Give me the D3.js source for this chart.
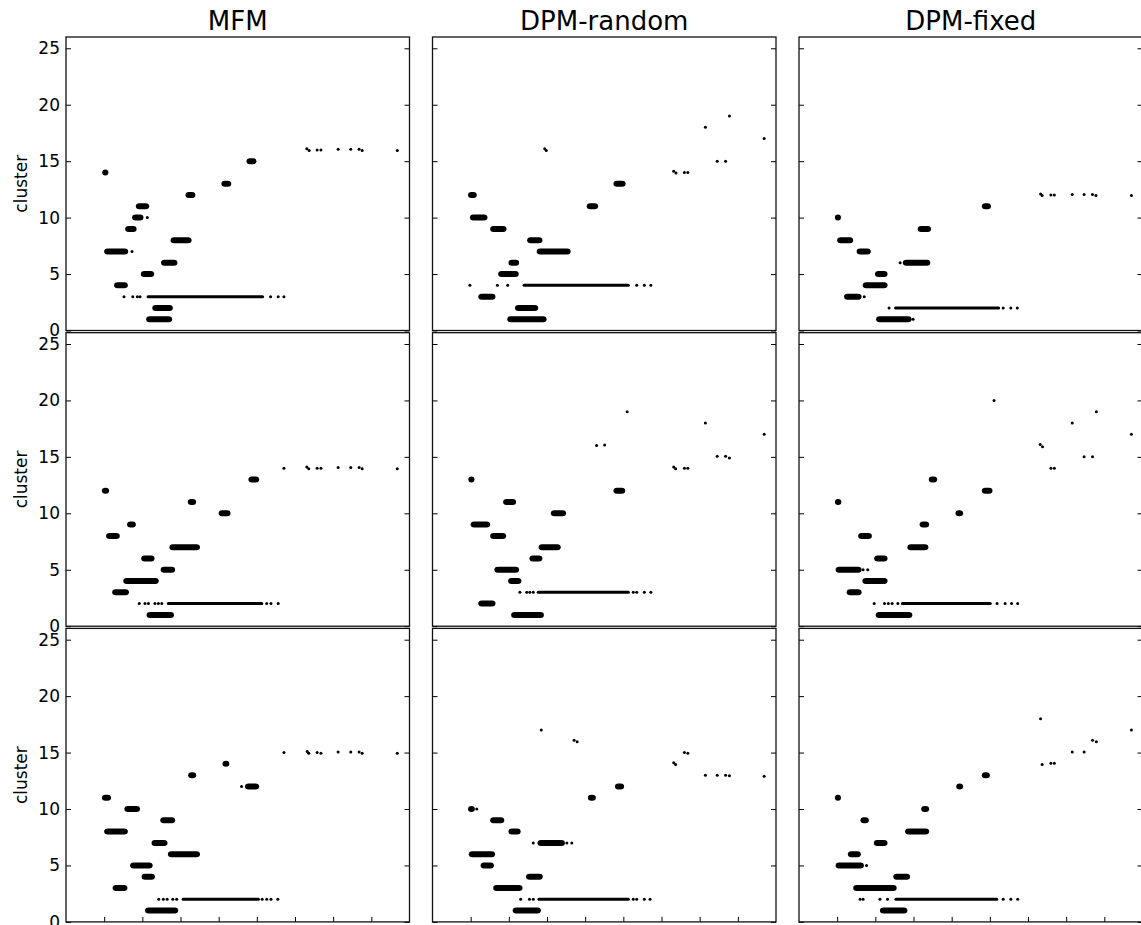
<!DOCTYPE html>
<html><head><meta charset="utf-8">
<script src="https://cdn.jsdelivr.net/npm/d3@7"></script>
<style>body{margin:0;background:#fff}svg{display:block}</style>
</head><body><svg id="c" width="1141" height="925"></svg>
<script>
const titles = ["MFM", "DPM-random", "DPM-fixed"];
const yTicks = [0, 5, 10, 15, 20, 25];
const xTicks = [1, 2, 3, 4, 5, 6, 7, 8];

// blobs: [cluster, xStart, xEnd]; trail: [cluster, xStart, xEnd]; dots: [cluster, x]
const mfmABlobs = [[15,4.73,4.99],[14,0.95,1.11],[13,4.07,4.33],[12,3.13,3.39],[11,1.83,2.18],[10,1.73,2.03],[9,1.55,1.85],[8,2.74,3.29],[7,1.00,1.63],[6,2.49,2.92],[5,1.96,2.31],[4,1.26,1.62],[2,2.26,2.80],[1,2.10,2.78]];
const mfmATrail = [[3,2.11,5.19]];
const mfmADots = [[16.1,6.31],[15.95,6.37],[16,6.58],[16,6.68],[16.05,7.13],[16.05,7.46],[16.05,7.68],[15.95,7.76],[15.95,8.68],[10,2.13],[7,1.73],[3,1.52],[3,1.75],[3,1.87],[3,1.94],[3,5.36],[3,5.56],[3,5.71]];

const dpmrABlobs = [[13,4.74,5.06],[12,0.93,1.16],[11,4.04,4.34],[10,0.98,1.44],[9,1.51,1.94],[8,2.48,2.88],[7,2.73,3.62],[6,1.99,2.27],[5,1.72,2.26],[3,1.20,1.65],[2,2.16,2.77],[1,1.96,2.99]];
const dpmrATrail = [[4,2.36,5.17]];
const dpmrADots = [[19,7.78],[18,7.15],[17,8.69],[16.1,2.94],[15.95,2.98],[15,7.46],[15,7.68],[14.1,6.32],[13.95,6.38],[14,6.60],[14,6.69],[4,0.98],[4,1.70],[4,1.97],[4,5.35],[4,5.55],[4,5.72]];

const dpmfABlobs = [[11,4.79,5.03],[10,0.94,1.10],[9,3.11,3.46],[8,1.00,1.42],[7,1.51,1.88],[6,2.72,3.44],[5,1.99,2.32],[4,1.67,2.32],[3,1.18,1.64],[1,2.02,2.95]];
const dpmfATrail = [[2,2.49,5.27]];
const dpmfADots = [[12.1,6.33],[11.95,6.37],[12,6.60],[12,6.69],[12.05,7.16],[12.05,7.47],[12.05,7.69],[11.95,7.78],[11.95,8.71],[6,2.65],[3,1.71],[2,2.36],[2,5.35],[2,5.55],[2,5.72],[1,2.99]];

const mfmBBlobs = [[13,4.78,5.06],[12,0.94,1.13],[11,3.19,3.41],[10,4.00,4.31],[9,1.60,1.83],[8,1.05,1.41],[7,2.71,3.51],[6,1.97,2.32],[5,2.48,2.86],[4,1.50,2.43],[3,1.21,1.65],[1,2.11,2.83]];
const mfmBTrail = [[2,2.64,5.17]];
const mfmBDots = [[14,5.71],[14.1,6.31],[13.95,6.36],[14,6.58],[14,6.68],[14.05,7.13],[14.05,7.46],[14.05,7.68],[13.95,7.76],[13.95,8.68],[2,1.92],[2,2.07],[2,2.16],[2,2.33],[2,2.42],[2,2.51],[2,5.26],[2,5.37],[2,5.56]];

const dpmrBBlobs = [[13,0.94,1.10],[12,4.74,5.05],[11,1.85,2.19],[10,3.10,3.50],[9,1.00,1.51],[8,1.51,1.93],[7,2.78,3.36],[6,2.54,2.88],[5,1.62,2.27],[4,1.98,2.33],[2,1.20,1.65],[1,2.06,2.92]];
const dpmrBTrail = [[3,2.73,5.17]];
const dpmrBDots = [[19,5.10],[18,7.15],[17,8.69],[16,4.30],[16.05,4.51],[15.05,7.46],[15.05,7.68],[14.9,7.78],[14.1,6.32],[13.95,6.37],[14,6.60],[14,6.69],[3,2.29],[3,2.47],[3,2.55],[3,2.64],[3,5.26],[3,5.35],[3,5.55],[3,5.72]];

const dpmfBBlobs = [[13,3.40,3.62],[12,4.79,5.07],[11,0.94,1.11],[10,4.10,4.30],[9,3.16,3.41],[8,1.55,1.91],[7,2.84,3.39],[6,1.97,2.32],[5,0.96,1.64],[4,1.66,2.32],[3,1.25,1.64],[1,2.01,2.97]];
const dpmfBTrail = [[2,2.67,5.05]];
const dpmfBDots = [[20,5.11],[19,7.79],[18,7.16],[17,8.71],[16.1,6.32],[15.9,6.38],[15,7.47],[15,7.69],[14,6.60],[14,6.69],[5,1.68],[5,1.80],[2,1.97],[2,2.24],[2,2.34],[2,2.44],[2,2.59],[2,5.19],[2,5.40],[2,5.57],[2,5.73]];

const mfmCBlobs = [[14,4.10,4.28],[13,3.20,3.41],[12,4.69,5.06],[11,0.94,1.18],[10,1.53,1.94],[9,2.47,2.86],[8,1.00,1.62],[7,2.24,2.66],[6,2.67,3.51],[5,1.68,2.27],[4,1.98,2.33],[3,1.22,1.61],[1,2.07,2.94]];
const mfmCTrail = [[2,3.03,5.08]];
const mfmCDots = [[15,5.71],[15.1,6.32],[14.95,6.36],[15,6.58],[14.95,6.68],[15.05,7.13],[15.05,7.46],[15.05,7.68],[14.95,7.76],[14.95,8.68],[12,4.60],[2,2.43],[2,2.55],[2,2.65],[2,2.80],[2,2.90],[2,5.14],[2,5.26],[2,5.37],[2,5.55]];

const dpmrCBlobs = [[12,4.78,5.02],[11,4.07,4.28],[10,0.93,1.11],[9,1.51,1.88],[8,1.99,2.31],[7,2.75,3.47],[6,0.95,1.64],[5,1.26,1.61],[4,2.45,2.89],[3,1.59,2.36],[1,2.10,2.84]];
const dpmrCTrail = [[2,2.75,5.17]];
const dpmrCDots = [[17,2.85],[16.1,3.71],[15.95,3.79],[15,6.60],[14.95,6.69],[14.1,6.32],[13.95,6.37],[13,7.15],[13,7.46],[13,7.68],[12.95,7.78],[12.9,8.69],[10,1.16],[7,2.64],[7,3.52],[7,3.65],[2,2.31],[2,2.54],[2,2.64],[2,5.26],[2,5.35],[2,5.55],[2,5.70]];

const dpmfCBlobs = [[13,4.79,5.00],[12,4.12,4.30],[11,0.94,1.10],[10,3.20,3.41],[9,1.61,1.83],[8,2.78,3.41],[7,1.96,2.32],[6,1.28,1.62],[5,0.96,1.70],[4,2.47,2.91],[3,1.42,2.56],[1,2.12,2.84]];
const dpmfCTrail = [[2,2.50,5.22]];
const dpmfCDots = [[18,6.33],[17,8.71],[16.1,7.69],[15.95,7.79],[15.05,7.16],[15.05,7.47],[13.95,6.37],[14.05,6.60],[14.05,6.69],[5,1.77],[2,1.60],[2,1.68],[2,2.12],[2,2.32],[2,5.35],[2,5.55],[2,5.73]];

const grid = [
  [[mfmABlobs, mfmATrail, mfmADots], [dpmrABlobs, dpmrATrail, dpmrADots], [dpmfABlobs, dpmfATrail, dpmfADots]],
  [[mfmBBlobs, mfmBTrail, mfmBDots], [dpmrBBlobs, dpmrBTrail, dpmrBDots], [dpmfBBlobs, dpmfBTrail, dpmfBDots]],
  [[mfmCBlobs, mfmCTrail, mfmCDots], [dpmrCBlobs, dpmrCTrail, dpmrCDots], [dpmfCBlobs, dpmfCTrail, dpmfCDots]]
];

const svg = d3.select("#c");
const W = 343.5, H = 293.5;
const lefts = [66, 432.5, 799], tops = [37, 332.7, 628.4];
const font = "'DejaVu Sans', sans-serif";

const x = d3.scaleLinear().domain([0, 9]).range([0, W]);
const y = d3.scaleLinear().domain([0, 26]).range([H, 0]);

titles.forEach((t, c) => {
  svg.append("text").attr("x", lefts[c] + W / 2).attr("y", 30)
    .attr("text-anchor", "middle").attr("font-family", font).attr("font-size", 26)
    .attr("fill", "#000").text(t);
});

grid.forEach((row, r) => {
  row.forEach((panel, c) => {
    const [blobs, trail, dots] = panel;
    const g = svg.append("g").attr("transform", `translate(${lefts[c]},${tops[r]})`);
    const cid = `clip${r}${c}`;
    g.append("clipPath").attr("id", cid).append("rect").attr("width", W).attr("height", H);
    const m = g.append("g").attr("clip-path", `url(#${cid})`);

    m.selectAll("rect.trail").data(trail).enter().append("rect").attr("class", "trail")
      .attr("x", d => x(d[1])).attr("width", d => x(d[2]) - x(d[1]))
      .attr("y", d => y(d[0]) - 1.5).attr("height", 3).attr("rx", 1.5).attr("fill", "#000");

    m.selectAll("rect.blob").data(blobs).enter().append("rect").attr("class", "blob")
      .attr("x", d => x(d[1])).attr("width", d => x(d[2]) - x(d[1]))
      .attr("y", d => y(d[0]) - 3).attr("height", 6)
      .attr("rx", d => Math.min(3.5, (x(d[2]) - x(d[1])) / 2)).attr("ry", 3).attr("fill", "#000");

    m.selectAll("circle").data(dots).enter().append("circle")
      .attr("cx", d => x(d[1])).attr("cy", d => y(d[0])).attr("r", 1.5).attr("fill", "#000");

    // axes
    const la = g.append("g").call(d3.axisLeft(y).tickValues(yTicks).tickSize(-5).tickPadding(6)
      .tickFormat(c === 0 ? d3.format("d") : () => ""));
    la.select(".domain").remove();
    la.selectAll("line").attr("stroke", "#000").attr("stroke-width", 1);
    la.selectAll("text").attr("font-family", font).attr("font-size", 17).attr("fill", "#000");

    const ra = g.append("g").attr("transform", `translate(${W},0)`)
      .call(d3.axisRight(y).tickValues(yTicks).tickSize(-5).tickFormat(() => ""));
    ra.select(".domain").remove();
    ra.selectAll("line").attr("stroke", "#000").attr("stroke-width", 1);

    if (r === 2) {
      const ba = g.append("g").attr("transform", `translate(0,${H})`)
        .call(d3.axisBottom(x).tickValues(xTicks).tickSize(-5).tickFormat(() => ""));
      ba.select(".domain").remove();
      ba.selectAll("line").attr("stroke", "#000").attr("stroke-width", 1);
    }

    g.append("rect").attr("width", W).attr("height", H).attr("fill", "none")
      .attr("stroke", "#111").attr("stroke-width", 1.3);

    if (c === 0) {
      g.append("text").attr("transform", `translate(-39,${H / 2}) rotate(-90)`)
        .attr("text-anchor", "middle").attr("font-family", font).attr("font-size", 17)
        .attr("fill", "#000").text("cluster");
    }
  });
});
</script></body></html>
